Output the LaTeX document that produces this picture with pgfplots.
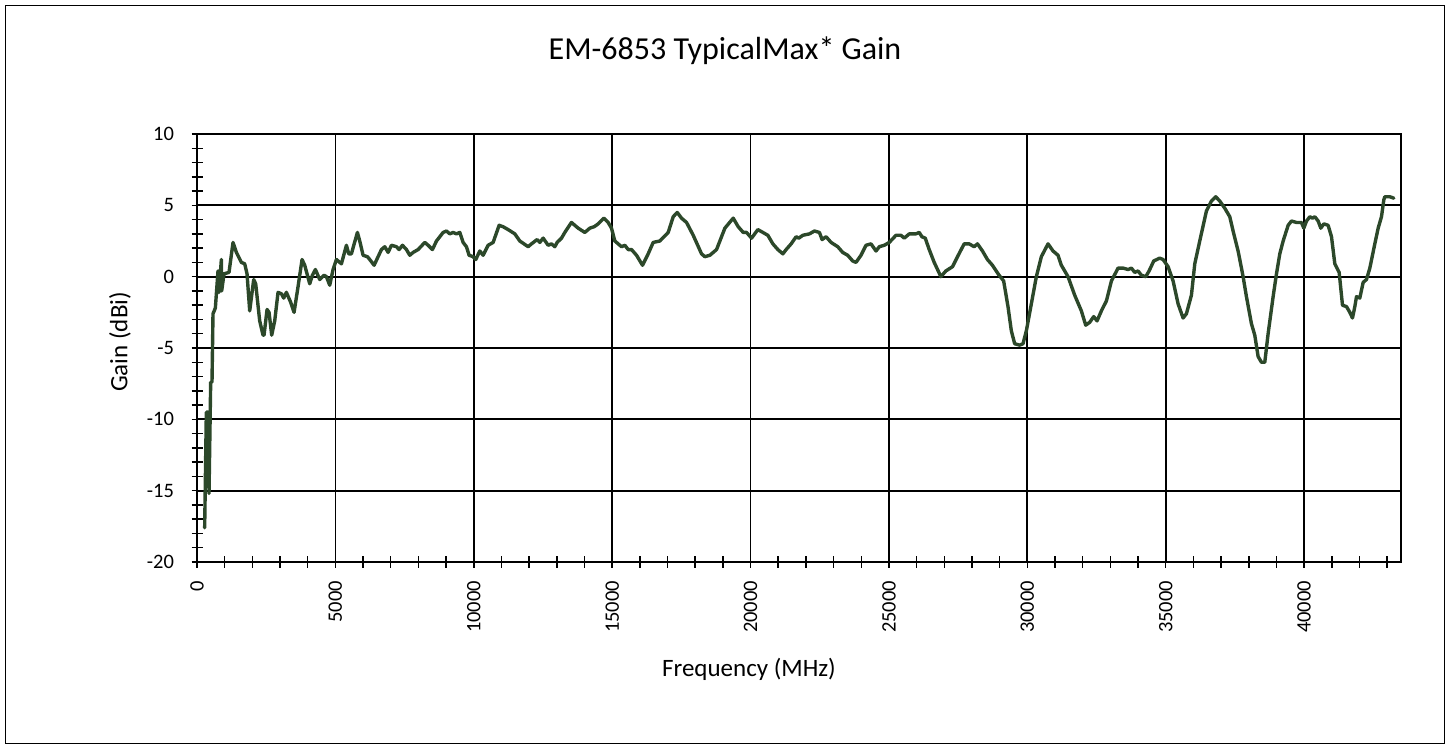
\documentclass[border=0pt]{standalone}
\usepackage{pgfplots}
\pgfplotsset{compat=1.18}
\usepackage{fontspec}
\setmainfont{Carlito}
\definecolor{gline}{RGB}{44,72,42}
\pgfplotstableread{
x y
277 -17.6
337 -9.5
400 -9.5
434 -15.2
494 -7.4
542 -7.4
578 -2.6
663 -2.2
759 0.4
795 -1.1
880 1.2
892 -1.0
976 0.2
1157 0.3
1301 2.4
1422 1.7
1603 1.0
1723 0.9
1808 0.2
1904 -2.4
2049 -0.2
2121 -0.5
2265 -3.1
2386 -4.1
2422 -4.1
2531 -2.3
2603 -2.5
2699 -4.1
2808 -3.1
2928 -1.1
3049 -1.2
3133 -1.5
3229 -1.1
3386 -1.8
3507 -2.5
3651 -0.7
3796 1.2
3892 0.8
4073 -0.5
4169 0.1
4278 0.5
4434 -0.2
4591 0.1
4675 0.0
4796 -0.6
4916 0.5
5037 1.2
5157 1.0
5218 0.9
5398 2.2
5483 1.6
5579 1.6
5664 2.2
5796 3.1
5880 2.5
6001 1.5
6158 1.4
6242 1.2
6399 0.8
6543 1.4
6664 1.9
6784 2.1
6905 1.7
7025 2.2
7206 2.1
7302 1.9
7423 2.2
7567 1.9
7688 1.5
7808 1.7
7989 1.9
8230 2.4
8351 2.2
8507 1.9
8652 2.5
8893 3.1
9013 3.2
9134 3.0
9254 3.1
9373 3.0
9494 3.1
9614 2.4
9735 2.1
9831 1.5
9976 1.4
10072 1.2
10217 1.8
10337 1.5
10518 2.2
10699 2.4
10916 3.6
11060 3.5
11241 3.3
11482 3.0
11663 2.5
11964 2.1
12084 2.3
12289 2.6
12386 2.4
12506 2.7
12687 2.2
12807 2.3
12928 2.1
13012 2.4
13169 2.7
13289 3.1
13530 3.8
13771 3.4
14012 3.1
14193 3.4
14350 3.5
14494 3.7
14699 4.1
14855 3.8
14976 3.4
15096 2.5
15337 2.1
15458 2.2
15578 1.9
15699 1.9
15880 1.5
16096 0.8
16301 1.6
16482 2.4
16723 2.5
17024 3.1
17205 4.2
17350 4.5
17506 4.1
17687 3.8
17928 2.9
18229 1.6
18349 1.4
18530 1.5
18771 1.9
19072 3.4
19373 4.1
19554 3.5
19735 3.1
19855 3.1
20036 2.7
20264 3.3
20445 3.1
20625 2.9
20805 2.3
20986 1.9
21166 1.6
21286 1.9
21466 2.3
21647 2.8
21743 2.7
21887 2.9
22128 3.0
22308 3.2
22488 3.1
22584 2.6
22728 2.8
22909 2.4
23149 2.1
23329 1.7
23509 1.5
23690 1.1
23810 1.0
23990 1.5
24171 2.2
24351 2.3
24532 1.8
24652 2.1
24832 2.2
25012 2.4
25253 2.9
25433 2.9
25553 2.7
25734 3.0
25974 3.0
26094 3.1
26190 2.8
26311 2.7
26455 1.9
26635 1.0
26876 0.0
27056 0.4
27297 0.7
27477 1.4
27717 2.3
27898 2.3
28078 2.1
28198 2.3
28379 1.8
28559 1.2
28739 0.8
28980 0.1
29144 -0.3
29301 -2.1
29422 -3.8
29542 -4.7
29723 -4.8
29843 -4.7
29964 -3.8
30145 -1.9
30325 0.0
30506 1.4
30747 2.3
30928 1.8
31109 1.5
31229 0.8
31470 0.0
31711 -1.3
31952 -2.4
32109 -3.4
32253 -3.2
32398 -2.8
32518 -3.1
32675 -2.4
32856 -1.7
33037 -0.3
33278 0.6
33459 0.6
33640 0.5
33760 0.6
33880 0.3
34001 0.4
34121 0.1
34278 0.0
34398 0.4
34567 1.1
34784 1.3
34904 1.2
35085 0.7
35266 -0.3
35446 -1.9
35627 -2.9
35747 -2.6
35928 -1.3
36049 0.9
36229 2.5
36470 4.6
36651 5.3
36807 5.6
36952 5.3
37133 4.8
37314 4.2
37434 3.2
37615 1.8
37796 0.0
37916 -1.4
38097 -3.3
38217 -4.1
38338 -5.6
38458 -6.0
38579 -6.0
38699 -4.0
38880 -1.4
39001 0.2
39121 1.6
39242 2.5
39423 3.6
39543 3.9
39723 3.8
39904 3.8
39989 3.4
40086 3.9
40206 4.2
40302 4.1
40386 4.2
40507 3.9
40603 3.4
40712 3.7
40868 3.6
40989 2.8
41109 0.9
41266 0.3
41386 -2.0
41531 -2.1
41651 -2.5
41747 -2.9
41832 -2.1
41892 -1.4
42012 -1.5
42133 -0.4
42253 -0.2
42374 0.6
42554 2.3
42675 3.4
42795 4.2
42880 5.4
42916 5.6
43097 5.6
43242 5.5
}\gaindata
\begin{document}
\begin{tikzpicture}
\path (0pt,0pt) rectangle (1449pt,745pt);
\draw[line width=1.6pt] (5.5pt,1.5pt) rectangle (1444.5pt,739.5pt);
\begin{axis}[
  at={(197pt,183pt)}, anchor=south west,
  scale only axis, width=1204pt, height=428pt,
  xmin=0, xmax=43500, ymin=-20, ymax=10,
  xtick distance=5000, ytick distance=5,
  minor x tick num=4, minor y tick num=4,
  grid=major,
  major grid style={black, line width=1.7pt},
  axis line style={black, line width=1.7pt},
  every tick/.style={black, line width=1.5pt},
  tick align=center,
  major tick length=11pt, minor tick length=11pt,
  xtick pos=bottom, ytick pos=left,
  scaled x ticks=false,
  /pgf/number format/assume math mode=true,
  /pgf/number format/set thousands separator={},
  ticklabel style={font=\fontsize{20.5}{24}\selectfont},
  xticklabel style={yshift=-10pt, rotate=90, anchor=east},
  yticklabel style={xshift=-14pt},
  clip=true,
]
\addplot[gline, line width=3.4pt, line join=round, line cap=round] table[x=x,y=y] {\gaindata};
\end{axis}
\node[font=\fontsize{32}{38}\selectfont] at (725pt,694pt) {EM-6853 TypicalMax* Gain};
\node[font=\fontsize{25}{30}\selectfont] at (749pt,76pt) {Frequency (MHz)};
\node[font=\fontsize{25}{30}\selectfont, rotate=90] at (120pt,403pt) {Gain (dBi)};
\end{tikzpicture}
\end{document}
